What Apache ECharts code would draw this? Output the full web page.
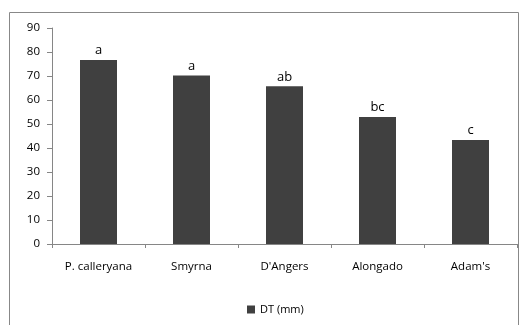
<!DOCTYPE html>
<html><head><meta charset="utf-8">
<script src="https://cdn.jsdelivr.net/npm/echarts@6/dist/echarts.min.js"></script>
<style>html,body{margin:0;padding:0;background:#fff}#c{width:519px;height:325px}</style>
</head><body><div id="c"></div>
<script>
const categories = ["P. calleryana", "Smyrna", "D'Angers", "Alongado", "Adam's"];
const dtValues = [76.7, 70.2, 65.7, 52.9, 43.3];
const letters = ["a", "a", "ab", "bc", "c"];
const seriesName = "DT (mm)";

const chart = echarts.init(document.getElementById('c'), null, {renderer: 'canvas'});
const font = "'Open Sans', sans-serif";
chart.setOption({
  animation: false,
  graphic: [{type: 'rect', shape: {x: 9.5, y: 12.5, width: 509, height: 500}, style: {fill: 'none', stroke: '#888', lineWidth: 1}, silent: true}],
  grid: {left: 52, top: 28, right: 2, bottom: 81, containLabel: false},
  legend: {top: 299, left: 242, itemWidth: 8, itemHeight: 8, itemGap: 4, icon: 'rect',
    textStyle: {fontFamily: font, fontSize: 11, color: '#000'}, data: [seriesName]},
  xAxis: {type: 'category', data: categories,
    axisLine: {lineStyle: {color: '#868686'}},
    axisTick: {show: true, length: 4, lineStyle: {color: '#868686'}},
    axisLabel: {fontFamily: font, fontSize: 11.5, color: '#000', margin: 17, interval: 0}},
  yAxis: {type: 'value', min: 0, max: 90, interval: 10,
    axisLine: {show: true, lineStyle: {color: '#868686'}},
    axisTick: {show: true, length: 5, lineStyle: {color: '#868686'}},
    splitLine: {show: false},
    axisLabel: {fontFamily: font, fontSize: 11.5, color: '#000', margin: 12}},
  series: [{name: seriesName, type: 'bar', data: dtValues, barWidth: 37,
    itemStyle: {color: '#404040'},
    label: {show: true, position: 'top', distance: 3, fontFamily: font, fontSize: 13, color: '#000',
      formatter: p => letters[p.dataIndex]}}]
});
</script></body></html>
